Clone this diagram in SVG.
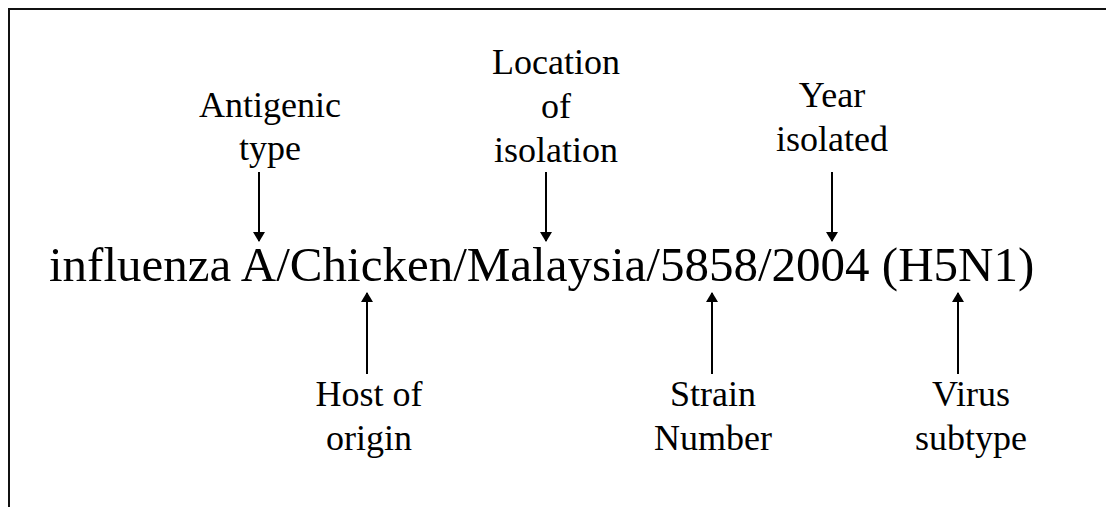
<svg xmlns="http://www.w3.org/2000/svg" width="1106" height="507" viewBox="0 0 1106 507">
<style>
.lbl{font-family:"Liberation Serif","Times New Roman",serif;font-size:36px;fill:#000;text-anchor:middle}
.main{font-family:"Liberation Serif","Times New Roman",serif;font-size:49px;fill:#000}
.arr{stroke:#000;stroke-width:2;fill:none;marker-end:url(#ah)}
.frame{stroke:#111;stroke-width:2;fill:none}
</style>
<defs>
<marker id="ah" viewBox="0 0 10 12" refX="9" refY="6" markerWidth="5" markerHeight="6" orient="auto" markerUnits="strokeWidth">
<path d="M0,0 L10,6 L0,12 Z" fill="#000"/>
</marker>
</defs>
<rect width="1106" height="507" fill="#fff"/>
<path class="frame" d="M9,507 L9,9 L1106,9"/>
<g id="main-name">
<text class="main" x="49" y="281">influenza A/Chicken/Malaysia/5858/2004 (H5N1)</text>
</g>
<g id="antigenic-type">
<text class="lbl" x="270" y="117">Antigenic</text>
<text class="lbl" x="270" y="160">type</text>
</g>
<g id="location">
<text class="lbl" x="556" y="74">Location</text>
<text class="lbl" x="556" y="118">of</text>
<text class="lbl" x="556" y="162">isolation</text>
</g>
<g id="year">
<text class="lbl" x="832" y="107">Year</text>
<text class="lbl" x="832" y="151">isolated</text>
</g>
<g id="host">
<text class="lbl" x="369" y="406">Host of</text>
<text class="lbl" x="369" y="450">origin</text>
</g>
<g id="strain">
<text class="lbl" x="713" y="406">Strain</text>
<text class="lbl" x="713" y="450">Number</text>
</g>
<g id="subtype">
<text class="lbl" x="971" y="406">Virus</text>
<text class="lbl" x="971" y="450">subtype</text>
</g>
<g id="connectors">
<line class="arr" x1="259" y1="172" x2="259" y2="241"/>
<line class="arr" x1="546" y1="172" x2="546" y2="241"/>
<line class="arr" x1="832" y1="172" x2="832" y2="241"/>
<line class="arr" x1="367" y1="374" x2="367" y2="293"/>
<line class="arr" x1="712" y1="374" x2="712" y2="293"/>
<line class="arr" x1="958" y1="374" x2="958" y2="293"/>
</g>
</svg>
